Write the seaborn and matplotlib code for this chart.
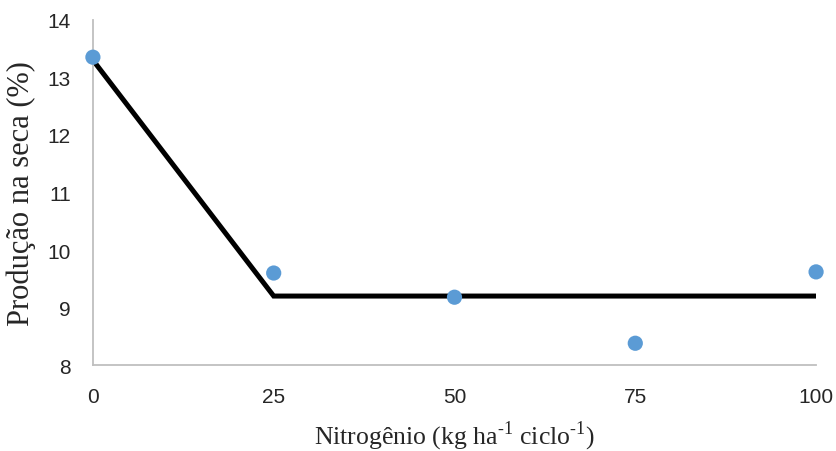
import matplotlib
matplotlib.use("Agg")
import matplotlib.pyplot as plt
import seaborn as sns
import pandas as pd

# observed points
nitrogen = [0, 25, 50, 75, 100]
production = [13.35, 9.6, 9.18, 8.38, 9.62]

# fitted linear-plateau model
fit_x = [0, 25, 100]
fit_y = [13.3, 9.2, 9.2]

x_ticks = [0, 25, 50, 75, 100]
y_ticks = [8, 9, 10, 11, 12, 13, 14]

sns.set_style("white")
plt.rcParams["mathtext.fontset"] = "custom"
plt.rcParams["mathtext.rm"] = "Liberation Serif"

fig = plt.figure(figsize=(8.37, 4.52), dpi=100)
ax = fig.add_axes([0.111, 0.190, 0.864, 0.764])

obs = pd.DataFrame({"N": nitrogen, "prod": production})
fit = pd.DataFrame({"N": fit_x, "prod": fit_y})

sns.lineplot(data=fit, x="N", y="prod", color="black", linewidth=3.6, ax=ax,
             solid_joinstyle="miter", zorder=2)
sns.scatterplot(data=obs, x="N", y="prod", color="#5B9BD5", s=120,
                edgecolor="none", ax=ax, zorder=3, clip_on=False)

ax.set_xlim(0, 100)
ax.set_ylim(8, 14)
ax.set_xticks(x_ticks)
ax.set_yticks(y_ticks)
ax.set_xticklabels([str(t) for t in x_ticks], fontfamily="Liberation Sans", fontsize=15)
ax.set_yticklabels([str(t) for t in y_ticks], fontfamily="Liberation Sans", fontsize=15)
ax.tick_params(axis="y", length=0, pad=16)
ax.tick_params(axis="x", length=0, pad=16)

for side in ["top", "right"]:
    ax.spines[side].set_visible(False)
for side in ["left", "bottom"]:
    ax.spines[side].set_color("#BFBFBF")
    ax.spines[side].set_linewidth(1.3)

ax.set_xlabel(r"Nitrogênio (kg ha$^{\text{-1}}$ ciclo$^{\text{-1}}$)",
              fontfamily="Liberation Serif", fontsize=18.5, labelpad=9)
ax.set_ylabel("Produção na seca (%)", fontfamily="Liberation Serif", fontsize=22, labelpad=8)

fig.savefig("out.png", dpi=100)
